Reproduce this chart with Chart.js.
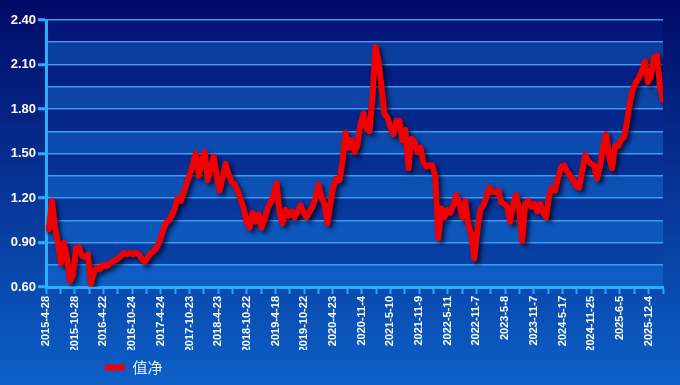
<!DOCTYPE html>
<html>
<head>
<meta charset="utf-8">
<script src="https://cdn.jsdelivr.net/npm/chart.js@4.4.1/dist/chart.umd.min.js"></script>
<style>
  html, body { margin: 0; padding: 0; background: #063a9a; }
  #wrap { width: 680px; height: 385px; }
</style>
</head>
<body>
<div id="wrap"><canvas id="nav"></canvas></div>
<script>
// x-axis labels, one on every second tick (ticks are ~quarterly)
const dateLabels = [
  '2015-4-28', '2015-10-28', '2016-4-22', '2016-10-24', '2017-4-24', '2017-10-23',
  '2018-4-23', '2018-10-22', '2019-4-18', '2019-10-22', '2020-4-23', '2020-11-4',
  '2021-5-10', '2021-11-9', '2022-5-11', '2022-11-7', '2023-5-8', '2023-11-7',
  '2024-5-17', '2024-11-25', '2025-6-5', '2025-12-4'
];
const tickCount = 43;          // number of tick intervals on the x axis
const seriesName = '值净';

// net value, evenly spaced from 2015-4-28 to the end of the axis
const navValues = [
  1.00, 0.99, 1.18, 1.00, 0.90, 0.76, 0.90, 0.80, 0.64, 0.68,
  0.86, 0.87, 0.81, 0.80, 0.82, 0.62, 0.70, 0.73, 0.72, 0.75,
  0.74, 0.75, 0.77, 0.78, 0.79, 0.81, 0.83, 0.82, 0.83, 0.82,
  0.83, 0.82, 0.79, 0.77, 0.80, 0.83, 0.84, 0.87, 0.91, 0.98,
  1.03, 1.05, 1.08, 1.13, 1.20, 1.18, 1.24, 1.30, 1.36, 1.42,
  1.50, 1.35, 1.45, 1.51, 1.32, 1.40, 1.48, 1.35, 1.25, 1.34,
  1.43, 1.36, 1.31, 1.29, 1.25, 1.19, 1.13, 1.04, 1.00, 1.10,
  1.04, 1.09, 1.00, 1.06, 1.13, 1.17, 1.22, 1.30, 1.10, 1.03,
  1.12, 1.08, 1.11, 1.07, 1.11, 1.15, 1.10, 1.07, 1.11, 1.14,
  1.20, 1.29, 1.20, 1.16, 1.03, 1.17, 1.28, 1.33, 1.32, 1.45,
  1.64, 1.54, 1.59, 1.51, 1.56, 1.70, 1.77, 1.67, 1.65, 1.88,
  2.22, 2.13, 1.95, 1.77, 1.74, 1.68, 1.63, 1.72, 1.72, 1.59,
  1.66, 1.40, 1.60, 1.58, 1.51, 1.54, 1.44, 1.41, 1.42, 1.42,
  1.34, 0.93, 1.13, 1.07, 1.12, 1.10, 1.15, 1.22, 1.16, 1.07,
  1.18, 1.02, 0.95, 0.79, 0.98, 1.12, 1.15, 1.20, 1.27, 1.24,
  1.24, 1.25, 1.17, 1.16, 1.14, 1.04, 1.16, 1.22, 1.12, 0.91,
  1.16, 1.18, 1.14, 1.16, 1.11, 1.16, 1.10, 1.07, 1.22, 1.27,
  1.25, 1.34, 1.41, 1.42, 1.38, 1.35, 1.32, 1.28, 1.27, 1.38,
  1.49, 1.45, 1.43, 1.42, 1.33, 1.42, 1.54, 1.63, 1.48, 1.40,
  1.55, 1.55, 1.59, 1.61, 1.72, 1.85, 1.94, 1.98, 2.01, 2.06,
  2.12, 1.98, 2.02, 2.15, 2.16, 1.95, 1.86
];

const points = navValues.map((v, i) => ({ x: i * tickCount / (navValues.length - 1), y: v }));

// blue gradient backdrop plus alternating bands behind the grid
const backdrop = {
  id: 'backdrop',
  beforeDraw(chart) {
    const { ctx, width, height, chartArea, scales } = chart;
    ctx.save();
    const bg = ctx.createLinearGradient(0, 0, 0, height);
    bg.addColorStop(0, '#010a66');
    bg.addColorStop(1, '#0c60c8');
    ctx.fillStyle = bg;
    ctx.fillRect(0, 0, width, height);

    const dark = ctx.createLinearGradient(0, chartArea.top, 0, chartArea.bottom);
    dark.addColorStop(0, '#03147a');
    dark.addColorStop(1, '#0946aa');
    const light = ctx.createLinearGradient(0, chartArea.top, 0, chartArea.bottom);
    light.addColorStop(0, '#0a3a98');
    light.addColorStop(1, '#0e5ec6');
    const y = scales.y;
    for (let i = 0; i < y.ticks.length - 1; i++) {
      const top = y.getPixelForValue(y.ticks[i + 1].value);
      const bot = y.getPixelForValue(y.ticks[i].value);
      ctx.fillStyle = i % 2 === 0 ? light : dark;
      ctx.fillRect(chartArea.left, top, chartArea.right - chartArea.left, bot - top);
    }
    ctx.restore();
  }
};

const lineShadow = {
  id: 'lineShadow',
  beforeDatasetsDraw(chart) {
    const c = chart.ctx;
    c.save();
    c.shadowColor = 'rgba(0, 0, 30, 0.7)';
    c.shadowBlur = 4;
    c.shadowOffsetX = 3;
    c.shadowOffsetY = 3;
  },
  afterDatasetsDraw(chart) {
    chart.ctx.restore();
  }
};

// legend sits bottom-left, under the first labels
const legendShift = {
  id: 'legendShift',
  afterLayout(chart) {
    const lg = chart.legend;
    const w = lg.right - lg.left;
    lg.left = 95;
    lg.right = 95 + w;
  }
};

new Chart(document.getElementById('nav'), {
  type: 'line',
  data: {
    datasets: [{
      label: seriesName,
      data: points,
      borderColor: '#f00000',
      backgroundColor: '#f00000',
      borderWidth: 6,
      borderJoinStyle: 'round',
      borderCapStyle: 'round',
      pointRadius: 0,
      tension: 0
    }]
  },
  options: {
    responsive: true,
    maintainAspectRatio: false,
    animation: false,
    layout: { padding: { top: 20, right: 17, left: 0, bottom: 0 } },
    scales: {
      x: {
        type: 'linear',
        min: 0,
        max: tickCount,
        afterFit: s => { s.height = 63; },
        grid: { drawOnChartArea: false, tickLength: 7, tickColor: '#2aa8f4', tickWidth: 2 },
        border: { color: '#2ab0fa', width: 3 },
        ticks: {
          stepSize: 1,
          autoSkip: false,
          minRotation: 90,
          maxRotation: 90,
          padding: 2,
          color: '#ffffff',
          font: { family: 'Liberation Sans', size: 11, weight: 'bold' },
          callback: (v) => (v % 2 === 0 ? dateLabels[v / 2] : '')
        }
      },
      y: {
        min: 0.6,
        max: 2.4,
        afterFit: s => { s.width = 46; },
        grid: {
          color: '#3d9cec',
          lineWidth: 1.5,
          tickLength: 8,
          tickWidth: 3,
          tickColor: c => (c.index % 2 === 0 ? '#2ab0fa' : 'rgba(0,0,0,0)')
        },
        border: { color: '#2ab0fa', width: 3 },
        ticks: {
          stepSize: 0.15,
          padding: 2,
          color: '#ffffff',
          font: { family: 'Liberation Sans', size: 13, weight: 'bold' },
          callback: (v, i) => (i % 2 === 0 ? v.toFixed(2) : '')
        }
      }
    },
    plugins: {
      legend: {
        position: 'bottom',
        align: 'start',
        labels: {
          usePointStyle: true,
          pointStyle: 'line',
          pointStyleWidth: 20,
          padding: 10,
          color: '#e8eeff',
          font: { family: 'Noto Sans CJK SC', size: 15 }
        }
      },
      tooltip: { enabled: false }
    }
  },
  plugins: [backdrop, lineShadow, legendShift]
});
</script>
</body>
</html>
